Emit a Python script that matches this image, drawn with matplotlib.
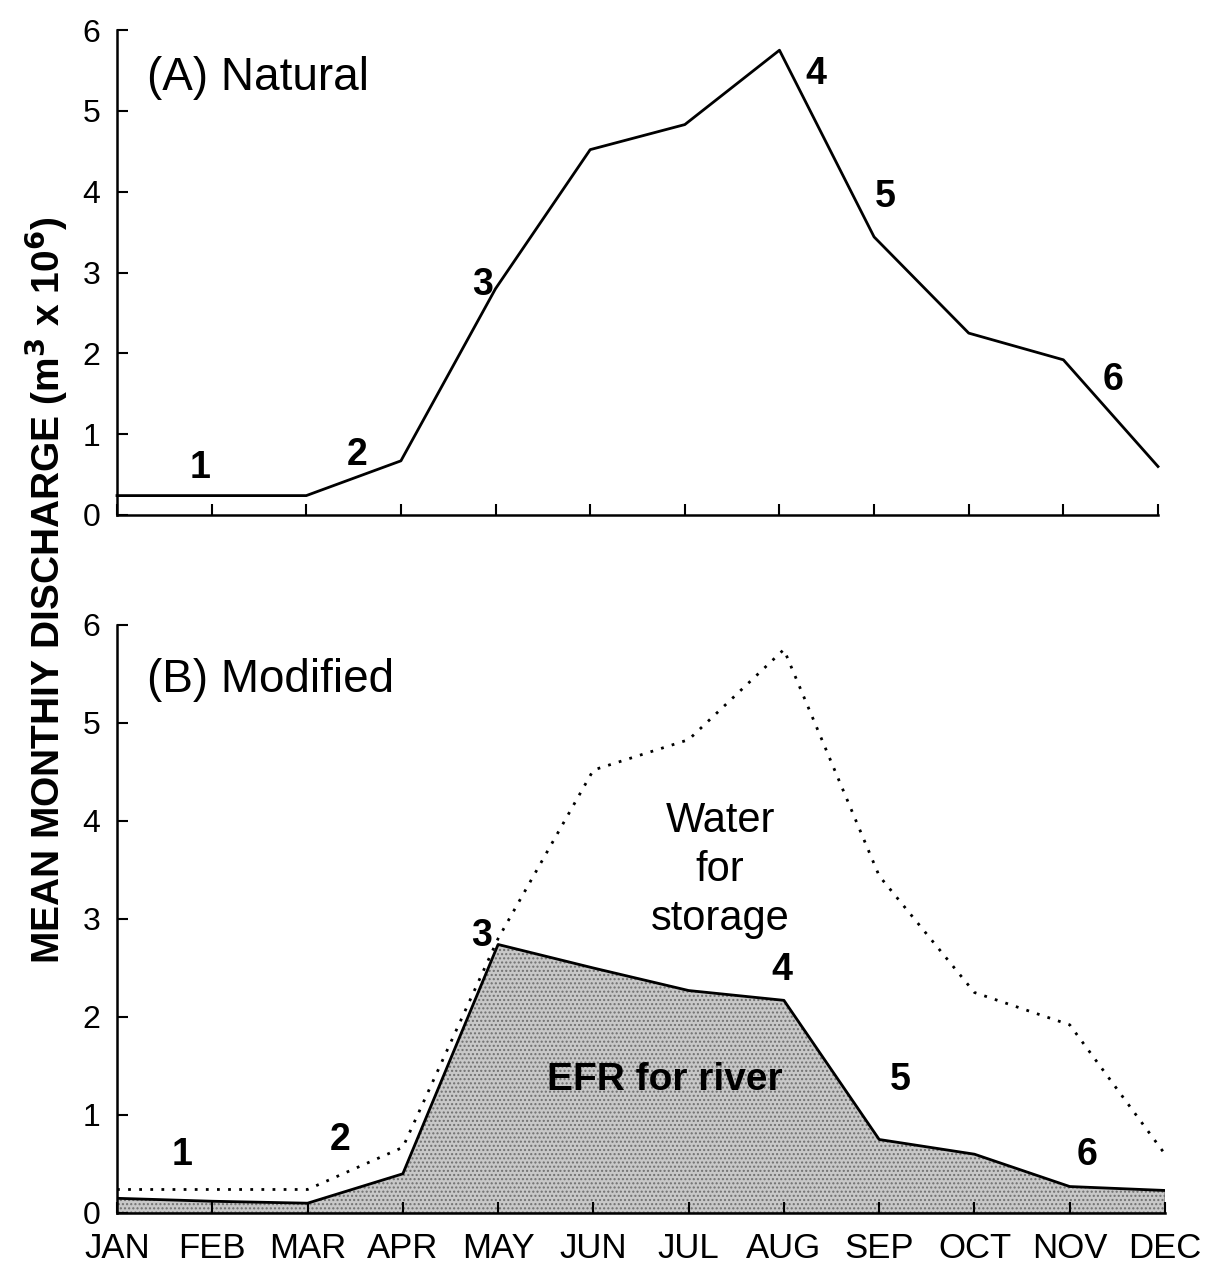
import matplotlib.pyplot as plt
import numpy as np

plt.rcParams['font.family'] = ['Liberation Sans', 'DejaVu Sans']

months = ['JAN', 'FEB', 'MAR', 'APR', 'MAY', 'JUN', 'JUL', 'AUG', 'SEP', 'OCT', 'NOV', 'DEC']
natural = [0.24, 0.24, 0.24, 0.67, 2.8, 4.52, 4.83, 5.75, 3.44, 2.25, 1.92, 0.6]
efr = [0.15, 0.12, 0.1, 0.4, 2.74, 2.5, 2.27, 2.17, 0.75, 0.6, 0.27, 0.23]

# period labels 1..6 (x in month index, y in discharge)
lab_txt = ['1', '2', '3', '4', '5', '6']
lab_a_x = [0.88, 2.54, 3.86, 7.38, 8.12, 10.52]
lab_a_y = [0.58, 0.74, 2.85, 5.45, 3.93, 1.67]
lab_b_x = [0.68, 2.34, 3.83, 6.98, 8.22, 10.18]
lab_b_y = [0.59, 0.74, 2.83, 2.48, 1.36, 0.59]

xx = np.arange(len(months))

fig = plt.figure(figsize=(12.1, 12.75), dpi=100)
ax1 = fig.add_axes([117/1210, 1-515/1275, (1158-117)/1210, (515-30)/1275])
ax2 = fig.add_axes([117/1210, 1-1213/1275, (1165-117)/1210, (1213-625)/1275])

def style(ax):
    ax.set_xlim(0, 11)
    ax.set_ylim(0, 6)
    for s in ['top', 'right']:
        ax.spines[s].set_visible(False)
    for s in ['left', 'bottom']:
        ax.spines[s].set_linewidth(1.8)
    ax.set_xticks(xx)
    ax.set_yticks(range(7))
    ax.tick_params(direction='in', length=8, width=1.5, labelsize=23, pad=12)

style(ax1)
ax1.plot(xx, natural, color='black', lw=2.0, clip_on=False)
ax1.set_xticklabels([])
ax1.text(0.32, 5.41, '(A) Natural', fontsize=33, va='center', ha='left')
for t, x, y in zip(lab_txt, lab_a_x, lab_a_y):
    ax1.text(x, y, t, fontsize=27, fontweight='bold', ha='center', va='center')

style(ax2)
ax2.fill_between(xx, efr, 0, facecolor='#c8c8c8', edgecolor='#707070',
                 hatch='....', lw=0.8, zorder=1)
ax2.plot(xx, efr, color='black', lw=2.0, zorder=3)
ax2.plot(xx, natural, color='black', lw=2.0, ls=(0, (1, 3)), zorder=2)
ax2.set_xticklabels(months)
ax2.tick_params(axis='x', labelsize=25, pad=14)
ax2.text(0.31, 5.44, '(B) Modified', fontsize=33, va='center', ha='left')
ax2.text(6.33, 3.5, 'Water\nfor\nstorage', fontsize=30, ha='center', va='center',
         linespacing=1.3)
ax2.text(5.75, 1.36, 'EFR for river', fontsize=28, fontweight='bold', ha='center', va='center')
for t, x, y in zip(lab_txt, lab_b_x, lab_b_y):
    ax2.text(x, y, t, fontsize=27, fontweight='bold', ha='center', va='center')

fig.text(46/1210, 1-590/1275, 'MEAN MONTHIY DISCHARGE (m$^{\\mathbf{3}}$ x 10$^{\\mathbf{6}}$)',
         rotation=90, fontsize=28, fontweight='bold', ha='center', va='center')

fig.savefig('out.png', dpi=100)
